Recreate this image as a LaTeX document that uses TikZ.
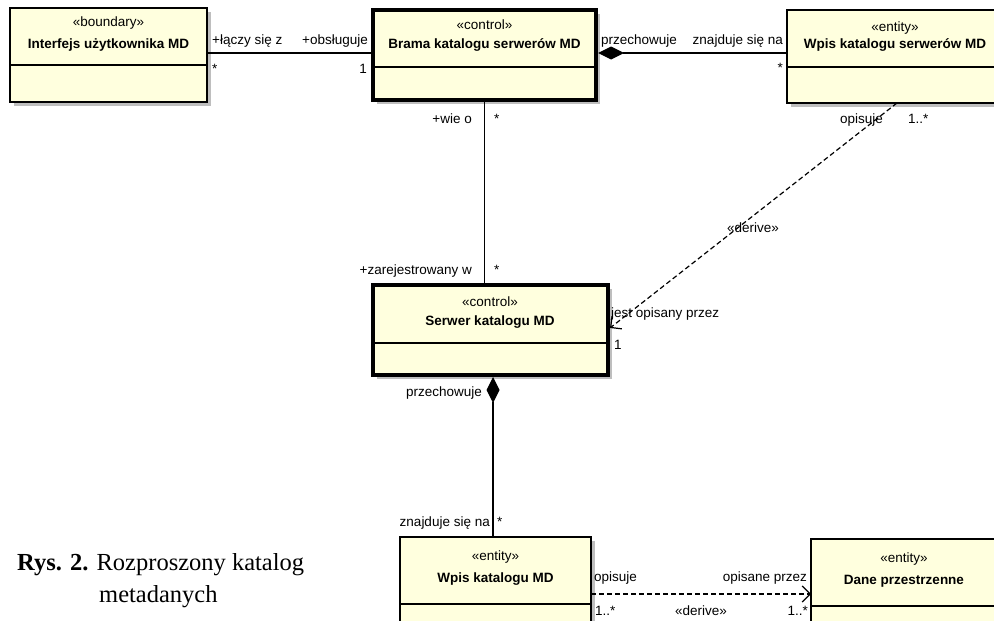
\documentclass[tikz,border=0pt]{standalone}
\usepackage{fontspec}
\setmainfont{Liberation Sans}
\newfontfamily\capfont{Liberation Serif}
\usetikzlibrary{arrows.meta,shadows}
\definecolor{boxfill}{RGB}{255,255,222}
\definecolor{shadowgray}{RGB}{190,190,190}
\tikzset{
  umlbox/.style={draw, fill=boxfill, inner sep=0pt, outer sep=0pt, anchor=north west,
    line width=1.4pt,
    drop shadow={shadow xshift=4pt, shadow yshift=-4pt, fill=shadowgray, opacity=1}},
  thickbox/.style={umlbox, line width=4pt},
  divider/.style={line width=1.2pt},
  lbl/.style={font=\fontsize{13.5}{15}\selectfont, inner sep=0pt},
  ttl/.style={font=\fontsize{13.5}{15}\selectfont\bfseries, inner sep=0pt},
  conn/.style={line width=1.2pt},
  dep/.style={line width=1.2pt, dash pattern=on 5pt off 3pt,
    -{Straight Barb[length=8pt,width=16pt]}},
  comp/.style={line width=1.2pt, {Diamond[length=26pt,width=13pt]}-},
  captext/.style={font=\capfont\fontsize{24.5}{29}\selectfont, inner sep=0pt},
}
\begin{document}
\begin{tikzpicture}[x=1pt,y=-1pt]
\useasboundingbox (0,0) rectangle (994,621);
\clip (0,0) rectangle (994,621);

% boxes
\node[umlbox, minimum width=197pt, minimum height=94pt] (b1) at (10,8) {};
\node[thickbox, minimum width=223pt, minimum height=90pt] (b2) at (373,10) {};
\node[umlbox, minimum width=220pt, minimum height=93pt] (b3) at (787,10) {};
\node[thickbox, minimum width=235pt, minimum height=90pt] (b4) at (373,285) {};
\node[umlbox, minimum width=191pt, minimum height=120pt] (b5) at (400,537) {};
\node[umlbox, minimum width=200pt, minimum height=120pt] (b6) at (811,539) {};

% dividers
\draw[divider] (b1.west |- 0,65) -- (b1.east |- 0,65);
\draw[divider] (b2.west |- 0,67) -- (b2.east |- 0,67);
\draw[divider] (b3.west |- 0,67) -- (b3.east |- 0,67);
\draw[divider] (b4.west |- 0,343) -- (b4.east |- 0,343);
\draw[divider] (b5.west |- 0,604) -- (b5.east |- 0,604);
\draw[divider] (b6.west |- 0,606) -- (b6.east |- 0,606);

% box texts
\node[lbl, anchor=base] (s1) at (108.5,27) {«boundary»};
\node[ttl, anchor=base] (t1) at (108.5,48) {Interfejs użytkownika MD};
\node[lbl, anchor=base] (s2) at (484.5,29) {«control»};
\node[ttl, anchor=base] (t2) at (484.5,48) {Brama katalogu serwerów MD};
\node[lbl, anchor=base] (s3) at (895,31) {«entity»};
\node[ttl, anchor=base] (t3) at (895,48) {Wpis katalogu serwerów MD};
\node[lbl, anchor=base] (s4) at (490,306) {«control»};
\node[ttl, anchor=base] (t4) at (490,325) {Serwer katalogu MD};
\node[lbl, anchor=base] (s5) at (495.5,560) {«entity»};
\node[ttl, anchor=base] (t5) at (495.5,582) {Wpis katalogu MD};
\node[lbl, anchor=base] (s6) at (904,562) {«entity»};
\node[ttl, anchor=base] (t6) at (904,584) {Dane przestrzenne};

% connectors
\draw[conn] ([yshift=2pt]b1.east) -- ([yshift=2pt]b2.west);
\draw[comp] ([xshift=2pt,yshift=2pt]b2.east) -- ([yshift=3.5pt]b3.west);
\draw[conn] ([yshift=-2pt]b2.south) -- ([yshift=2pt]b2.south |- b4.north);
\draw[dep] (b3.south) -- ([xshift=2pt,yshift=2pt]b4.east);
\draw[comp] ([xshift=2.5pt,yshift=-2pt]b4.south) -- ([xshift=-2.5pt]b5.north);
\draw[dep] ([yshift=3pt]b5.east) -- ([yshift=5pt]b6.west);

% connector labels
\node[lbl, anchor=base west] (l1) at (212,44) {+łączy się z};
\node[lbl, anchor=base east] (l2) at (368,44) {+obsługuje};
\node[lbl, anchor=base west] (l3) at (212,73) {*};
\node[lbl, anchor=base east] (l4) at (367,73) {1};
\node[lbl, anchor=base west] (l5) at (601,44) {przechowuje};
\node[lbl, anchor=base east] (l6) at (783,44) {znajduje się na};
\node[lbl, anchor=base east] (l7) at (783,72) {*};
\node[lbl, anchor=base east] (l8) at (472,123) {+wie o};
\node[lbl, anchor=base west] (l9) at (494,123) {*};
\node[lbl, anchor=base west] (l10) at (840,123) {opisuje};
\node[lbl, anchor=base west] (l11) at (908,123) {1..*};
\node[lbl, anchor=base] (l12) at (753,232) {«derive»};
\node[lbl, anchor=base east] (l13) at (472,274) {+zarejestrowany w};
\node[lbl, anchor=base west] (l14) at (494,274) {*};
\node[lbl, anchor=base west] (l15) at (611,317) {jest opisany przez};
\node[lbl, anchor=base west] (l16) at (614,349) {1};
\node[lbl, anchor=base east] (l17) at (482,396) {przechowuje};
\node[lbl, anchor=base east] (l18) at (490,526) {znajduje się na};
\node[lbl, anchor=base west] (l19) at (497,526) {*};
\node[lbl, anchor=base west] (l20) at (594,581) {opisuje};
\node[lbl, anchor=base east] (l21) at (807,581) {opisane przez};
\node[lbl, anchor=base west] (l22) at (595,615) {1..*};
\node[lbl, anchor=base] (l23) at (701,615) {«derive»};
\node[lbl, anchor=base east] (l24) at (808,615) {1..*};

% caption
\node[captext, anchor=base west] (c1) at (17,570) {\textbf{Rys. 2.} Rozproszony katalog};
\node[captext, anchor=base west] (c2) at (99,602) {metadanych};
\end{tikzpicture}
\end{document}
